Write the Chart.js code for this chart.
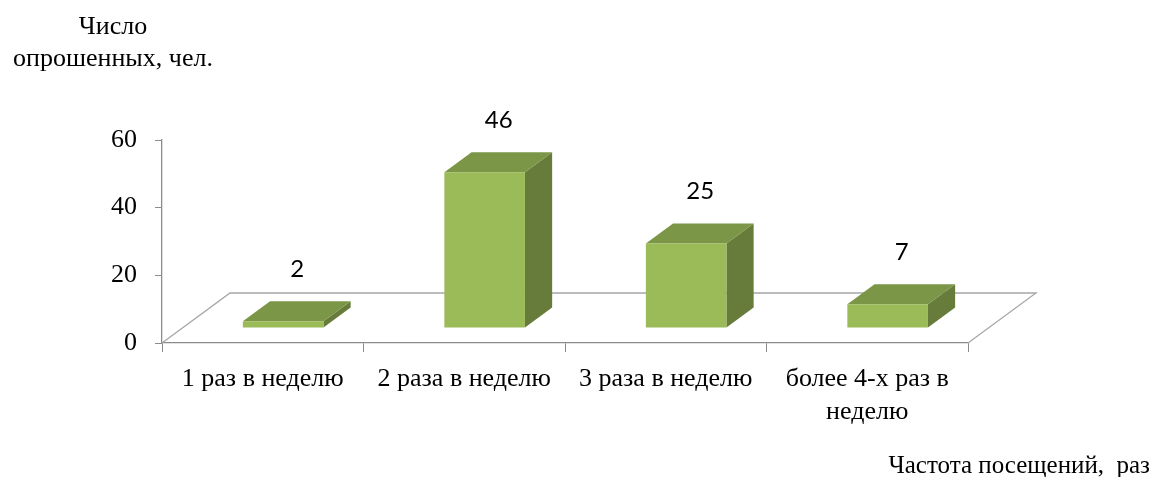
<!DOCTYPE html>
<html>
<head>
<meta charset="utf-8">
<script src="https://cdn.jsdelivr.net/npm/chart.js@4/dist/chart.umd.min.js"></script>
<style>
  body { margin: 0; background: #fff; }
  #wrap { width: 1164px; height: 477px; position: relative; }
</style>
</head>
<body>
<div id="wrap"><canvas id="chart"></canvas></div>
<script>
// Survey: how often respondents visit, number of people per answer
const categories = ['1 раз в неделю', '2 раза в неделю', '3 раза в неделю', ['более 4-х раз в', 'неделю']];
const respondents = [2, 46, 25, 7];
const yTicks = [0, 20, 40, 60];
const yTitle = ['Число', 'опрошенных, чел.'];
const xTitle = 'Частота посещений,  раз';

const serif = "'Liberation Serif', 'Times New Roman', serif";
const axisGray = '#8c8c8c';

// floor depth and where the boxes sit inside it
const floorDX = 68, floorDY = -50;
const frontFrac = 0.3, depthFrac = 0.4;

const colFront = '#9bbb59';
const colTop = '#7a9646';
const colSide = '#677c3a';

function quad(ctx, pts, fill) {
  ctx.beginPath();
  ctx.moveTo(pts[0][0], pts[0][1]);
  for (let i = 1; i < pts.length; i++) ctx.lineTo(pts[i][0], pts[i][1]);
  ctx.closePath();
  ctx.fillStyle = fill;
  ctx.fill();
}

const box3d = {
  id: 'box3d',
  beforeDatasetsDraw(chart) {
    const ctx = chart.ctx;
    const a = chart.chartArea;
    const y0 = chart.scales.y.getPixelForValue(0);
    // back edge and sides of the floor
    ctx.save();
    ctx.strokeStyle = '#a6a6a6';
    ctx.lineWidth = 1.3;
    ctx.beginPath();
    ctx.moveTo(a.left, y0);
    ctx.lineTo(a.left + floorDX, y0 + floorDY);
    ctx.lineTo(a.right + floorDX, y0 + floorDY);
    ctx.lineTo(a.right, y0);
    ctx.stroke();
    ctx.restore();
  },
  afterDatasetsDraw(chart) {
    const ctx = chart.ctx;
    const meta = chart.getDatasetMeta(0);
    const ox = floorDX * frontFrac, oy = floorDY * frontFrac;
    const dx = floorDX * depthFrac, dy = floorDY * depthFrac;
    ctx.save();
    meta.data.forEach((bar, i) => {
      const l = bar.x - bar.width / 2 + ox;
      const r = bar.x + bar.width / 2 + ox;
      const t = bar.y + oy;
      const b = bar.base + oy;
      // side, top, front
      quad(ctx, [[r, b], [r + dx, b + dy], [r + dx, t + dy], [r, t]], colSide);
      quad(ctx, [[l, t], [r, t], [r + dx, t + dy], [l + dx, t + dy]], colTop);
      quad(ctx, [[l, t], [r, t], [r, b], [l, b]], colFront);
      // value label above the box
      ctx.fillStyle = '#000';
      ctx.font = "24px Lato, 'Noto Sans', sans-serif";
      ctx.textAlign = 'center';
      ctx.textBaseline = 'middle';
      ctx.fillText(String(respondents[i]), (l + r) / 2 + 14, t + dy - 32);
    });
    ctx.restore();
  },
  afterDraw(chart) {
    const ctx = chart.ctx;
    ctx.save();
    ctx.fillStyle = '#000';
    ctx.font = '26px ' + serif;
    ctx.textAlign = 'center';
    ctx.textBaseline = 'middle';
    ctx.fillText(yTitle[0], 113, 27);
    ctx.fillText(yTitle[1], 113, 59);
    ctx.font = '25px ' + serif;
    ctx.textAlign = 'right';
    ctx.fillText(xTitle, 1150, 466);
    ctx.restore();
  }
};

new Chart(document.getElementById('chart'), {
  type: 'bar',
  data: {
    labels: categories,
    datasets: [{
      data: respondents,
      backgroundColor: 'rgba(0,0,0,0)',
      borderWidth: 0,
      categoryPercentage: 1,
      barPercentage: 0.4
    }]
  },
  options: {
    responsive: true,
    maintainAspectRatio: false,
    animation: false,
    layout: { padding: { top: 140, right: 196, left: 0, bottom: 0 } },
    plugins: { legend: { display: false }, tooltip: { enabled: false } },
    scales: {
      x: {
        afterFit(s) { s.height = 134; },
        grid: { drawOnChartArea: false, offset: true, tickLength: 9, color: axisGray },
        border: { color: axisGray, width: 1.3 },
        ticks: { color: '#000', padding: 11, maxRotation: 0, font: { family: serif, size: 26, lineHeight: 1.25 } }
      },
      y: {
        min: 0,
        max: 60,
        afterFit(s) { s.width = 162; },
        afterBuildTicks(s) { s.ticks = yTicks.map(v => ({ value: v })); },
        grid: { drawOnChartArea: false, tickLength: 7, color: axisGray },
        border: { color: axisGray, width: 1.3 },
        ticks: { color: '#000', padding: 18, font: { family: serif, size: 26 } }
      }
    }
  },
  plugins: [box3d]
});
</script>
</body>
</html>
